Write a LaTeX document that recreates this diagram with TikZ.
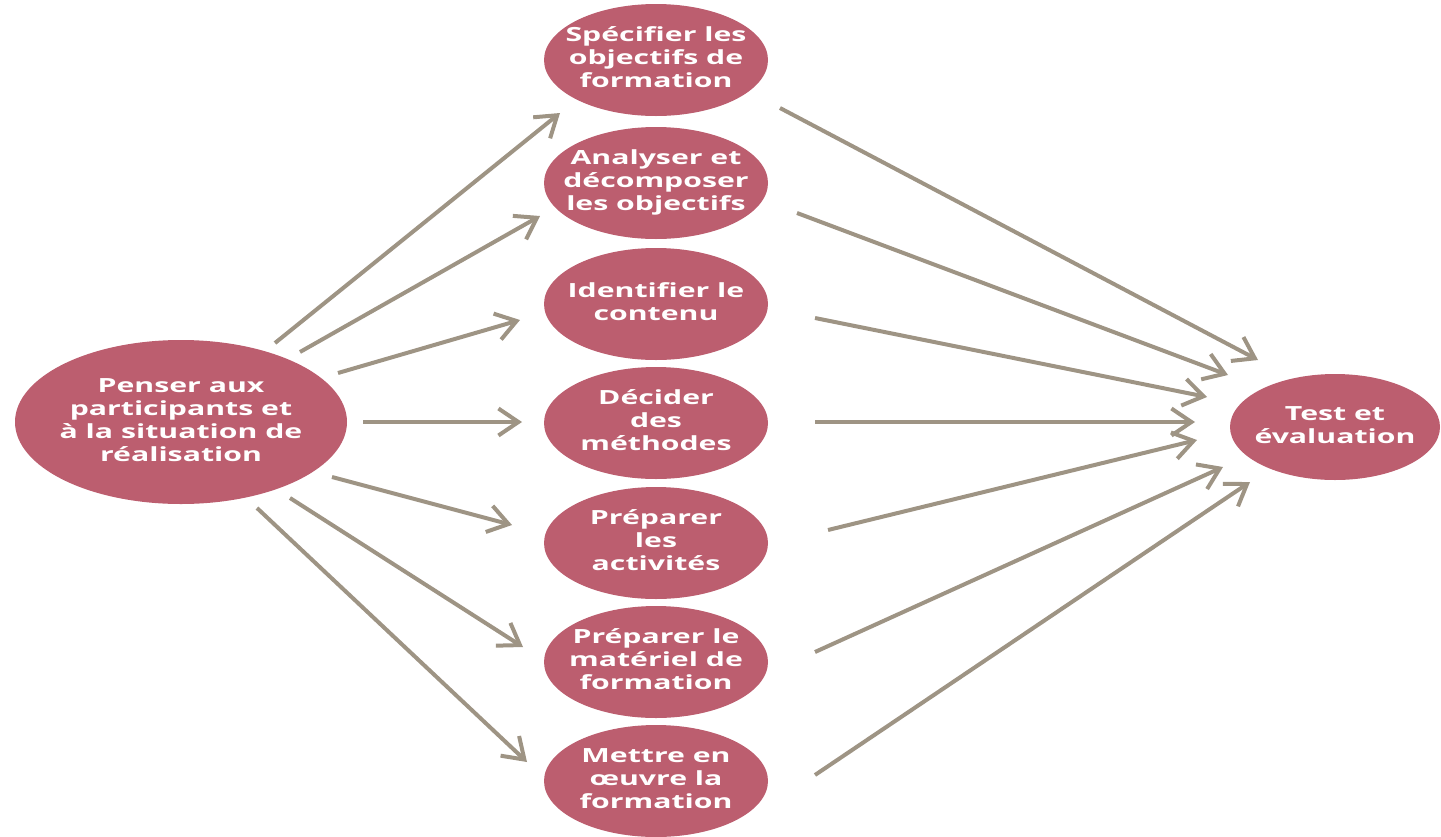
\documentclass[tikz,border=0pt]{standalone}
\usepackage{fontspec}
\newfontfamily\dfont[FakeStretch=1.55]{Open Sans}
\usetikzlibrary{shapes.geometric,arrows.meta,calc}
\definecolor{bubfill}{RGB}{188,94,111}
\definecolor{arrcol}{RGB}{158,148,132}
\newcommand\btxt[1]{\makebox[0pt]{\begin{tabular}{@{}c@{}}#1\end{tabular}}}
\begin{document}
\begin{tikzpicture}[x=1pt,y=-1pt,
  bub/.style={ellipse, fill=bubfill, text=white, inner sep=0pt,
    font=\dfont\bfseries\fontsize{19.5}{23}\selectfont},
  mid/.style={bub, minimum width=224pt, minimum height=112pt},
  arr/.style={draw=arrcol, line width=4pt,
    -{Straight Barb[length=20pt,width=27pt]}}]
\useasboundingbox (0,0) rectangle (1441,836);
\node[bub, minimum width=332pt, minimum height=164pt] (L) at (181,422)
  {\btxt{Penser aux\\participants et\\à la situation de\\réalisation}};
\node[mid] (M1) at (656,60) {\btxt{Spécifier les\\objectifs de\\formation}};
\node[mid] (M2) at (656,183) {\btxt{Analyser et\\décomposer\\les objectifs}};
\node[mid] (M3) at (656,304) {\btxt{Identifier le\\contenu}};
\node[mid] (M4) at (656,423) {\btxt{Décider\\des\\méthodes}};
\node[mid] (M5) at (656,543) {\btxt{Préparer\\les\\activités}};
\node[mid] (M6) at (656,662) {\btxt{Préparer le\\matériel de\\formation}};
\node[mid] (M7) at (656,781) {\btxt{Mettre en\\œuvre la\\formation}};
\node[bub, minimum width=210pt, minimum height=106pt] (R) at (1335,427)
  {\btxt{Test et\\évaluation}};
% left arrows
\draw[arr] ($(L)+(94,-79)$) -- ($(M1)+(-96,53)$);
\draw[arr] ($(L)+(119,-70)$) -- ($(M2)+(-116,33)$);
\draw[arr] ($(L)+(157,-49)$) -- ($(M3)+(-136,16)$);
\draw[arr] ($(L)+(182,0)$) -- ($(M4)+(-134,-1)$);
\draw[arr] ($(L)+(151,55)$) -- ($(M5)+(-144,-18)$);
\draw[arr] ($(L)+(109,76)$) -- ($(M6)+(-133,-15)$);
\draw[arr] ($(L)+(76,86)$) -- ($(M7)+(-129,-19)$);
% right arrows
\draw[arr] ($(M1)+(124,48)$) -- ($(R)+(-77,-67)$);
\draw[arr] ($(M2)+(141,30)$) -- ($(R)+(-107,-52)$);
\draw[arr] ($(M3)+(159,14)$) -- ($(R)+(-128,-30)$);
\draw[arr] ($(M4)+(159,-1)$) -- ($(R)+(-140,-5)$);
\draw[arr] ($(M5)+(172,-13)$) -- ($(R)+(-138,13)$);
\draw[arr] ($(M6)+(159,-10)$) -- ($(R)+(-112,40)$);
\draw[arr] ($(M7)+(159,-6)$) -- ($(R)+(-85,55)$);
\end{tikzpicture}
\end{document}
